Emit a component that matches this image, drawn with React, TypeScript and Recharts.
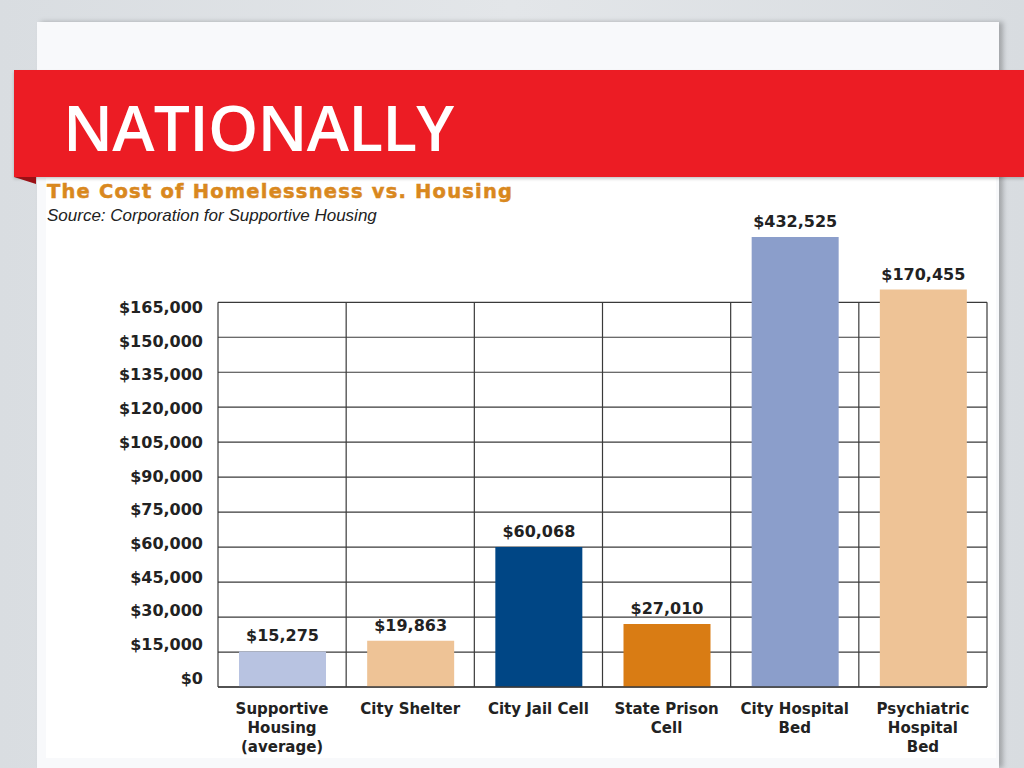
import React from 'react';
import { BarChart, Bar, XAxis, YAxis, Cell, LabelList, ReferenceLine } from 'recharts';

const categories = ['Supportive\nHousing\n(average)', 'City Shelter', 'City Jail Cell', 'State Prison\nCell', 'City Hospital\nBed', 'Psychiatric\nHospital\nBed'];
const costs = [15275, 19863, 60068, 27010, 432525, 170455];
const barColors = ['#B8C3E1', '#EEC396', '#004685', '#D97C14', '#8B9ECB', '#EEC396'];
const yTicks = [0, 15000, 30000, 45000, 60000, 75000, 90000, 105000, 120000, 135000, 150000, 165000];
const Y_MAX = 193000;
const GRID_TOP = 165000;

const data = categories.map((name, i) => ({
  name,
  value: costs[i],
  shown: Math.min(costs[i], Y_MAX),
}));

const FONT = '"DejaVu Sans", Verdana, sans-serif';
const fmt = (v: number) => '$' + v.toLocaleString('en-US');

const YTick = (props: any) => {
  const { x, y, payload } = props;
  const shift = -9 + 14 * (payload.value / 165000);
  return (
    <text x={x} y={y + shift} dy="0.36em" textAnchor="end" fontFamily={FONT} fontWeight="bold" fontSize={16} fill="#222">
      {fmt(payload.value)}
    </text>
  );
};

const XTick = (props: any) => {
  const { x, y, payload } = props;
  const lines = String(payload.value).split('\n');
  return (
    <text x={x} y={y} textAnchor="middle" fontFamily={FONT} fontWeight="bold" fontSize={15} fill="#222">
      {lines.map((l, i) => (
        <tspan key={i} x={x} dy={19}>{l}</tspan>
      ))}
    </text>
  );
};

export default function App() {
  return (
    <div style={{ position: 'absolute', left: 0, top: 0, width: 1024, height: 768, overflow: 'hidden', background: 'linear-gradient(90deg,#d9dde1,#e3e6e9 50%,#d8dce0)' }}>
      {/* panel */}
      <div style={{ position: 'absolute', left: 37, top: 22, width: 962, height: 746, background: '#f8f9fb', boxShadow: '4px 0 5px rgba(0,0,0,0.25)' }} />
      <div style={{ position: 'absolute', left: 46, top: 178, width: 950, height: 580, background: '#ffffff' }} />
      {/* banner */}
      <div style={{ position: 'absolute', left: 14, top: 70, width: 1010, height: 107, background: '#EC1C24', boxShadow: '0 2px 3px rgba(0,0,0,0.2)' }} />
      <div style={{ position: 'absolute', left: 14, top: 177, width: 0, height: 0, borderTop: '7px solid #9a1015', borderLeft: '22px solid transparent' }} />
      <div style={{ position: 'absolute', left: 63, top: 82, fontFamily: '"Open Sans", sans-serif', fontSize: 64, fontWeight: 600, color: '#fff', lineHeight: '90px', letterSpacing: -0.8 }}>NATIONALLY</div>
      {/* titles */}
      <div style={{ position: 'absolute', left: 47, top: 181, fontFamily: FONT, fontWeight: 'bold', fontSize: 19.5, color: '#D9881E', letterSpacing: 1.2, WebkitTextStroke: '0.5px #D9881E', lineHeight: '22px', whiteSpace: 'nowrap' }}>The Cost of Homelessness vs. Housing</div>
      <div style={{ position: 'absolute', left: 47, top: 205, fontFamily: '"Liberation Sans", Arial, sans-serif', fontStyle: 'italic', fontSize: 17, color: '#222', lineHeight: '22px', whiteSpace: 'nowrap' }}>Source: Corporation for Supportive Housing</div>
      <div style={{ position: 'absolute', left: 0, top: 0 }}>
        <BarChart width={1024} height={768} data={data} margin={{ top: 237, right: 37, bottom: 11, left: 118 }}>
          <XAxis dataKey="name" interval={0} tick={<XTick />} tickLine={false} axisLine={{ stroke: '#3a3a3a', strokeWidth: 1.5 }} height={70} />
          <YAxis domain={[0, Y_MAX]} ticks={yTicks} allowDataOverflow tick={<YTick />} tickLine={false} axisLine={false} width={100} tickSize={0} tickMargin={15} />
          {yTicks.map((t) => (
            <ReferenceLine key={'h' + t} y={t} stroke="#3a3a3a" strokeWidth={1.2} zIndex={-100} />
          ))}
          {categories.map((c) => (
            <ReferenceLine key={'v' + c} segment={[{ x: c, y: 0 }, { x: c, y: GRID_TOP }]} position="start" stroke="#3a3a3a" strokeWidth={1.2} zIndex={-100} />
          ))}
          <ReferenceLine segment={[{ x: categories[categories.length - 1], y: 0 }, { x: categories[categories.length - 1], y: GRID_TOP }]} position="end" stroke="#3a3a3a" strokeWidth={1.2} zIndex={-100} />
          <Bar dataKey="shown" barSize={87} isAnimationActive={false}>
            {data.map((d, i) => (
              <Cell key={i} fill={barColors[i]} />
            ))}
            <LabelList dataKey="value" position="top" offset={10} formatter={(v: any) => fmt(Number(v))} style={{ fontFamily: FONT, fontWeight: 'bold', fontSize: 16, fill: '#222' }} />
          </Bar>
        </BarChart>
      </div>
    </div>
  );
}
